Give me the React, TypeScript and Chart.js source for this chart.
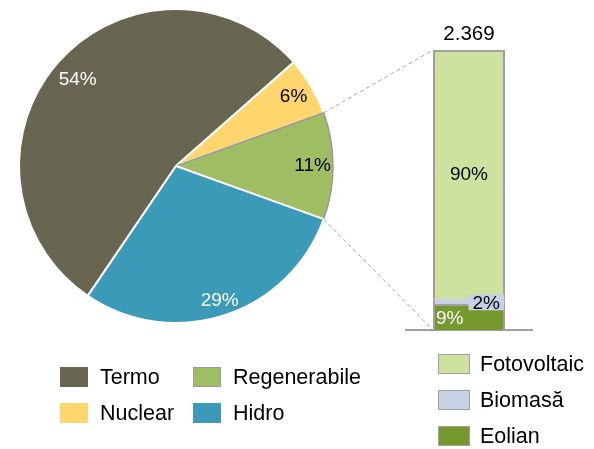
import React, { useEffect, useRef } from "react";
import { Chart, registerables } from "chart.js";
Chart.register(...registerables);

const FONT = '"Liberation Sans", Arial, sans-serif';

// Pie (clockwise order)
const pieLabels = ["Termo", "Nuclear", "Regenerabile", "Hidro"];
const pieValues = [54, 6, 11, 29];
const pieColors = ["#686651", "#FFD66E", "#9FBE63", "#3A9AB8"];
const pieBorderColors = ["#ffffff", "#ffffff", "#9a9a9a", "#ffffff"];
const pieLabelColors = ["#ffffff", "#000000", "#000000", "#ffffff"];

// Stacked bar (bottom to top)
const barLabels = ["Eolian", "Biomasă", "Fotovoltaic"];
const barValues = [9, 2, 90];
const barColors = ["#76992E", "#C6D1E4", "#CDE29E"];
const barLabelColors = ["#ffffff", "#000000", "#000000"];
const barTotal = "2.369";

// Legends
const leftLegend = [
  { label: "Termo", color: "#686651", border: "#686651" },
  { label: "Nuclear", color: "#FFD66E", border: "#FFD66E" },
  { label: "Regenerabile", color: "#9FBE63", border: "#9a9a9a" },
  { label: "Hidro", color: "#3A9AB8", border: "#3A9AB8" },
];
const rightLegend = [
  { label: "Fotovoltaic", color: "#CDE29E" },
  { label: "Biomasă", color: "#C6D1E4" },
  { label: "Eolian", color: "#76992E" },
];

export default function App() {
  const pieRef = useRef<HTMLCanvasElement>(null);
  const barRef = useRef<HTMLCanvasElement>(null);

  useEffect(() => {
    document.body.style.margin = "0";
    const labelRadius = [0.835, 0.87, 0.87, 0.9];
    const pieLabelPlugin = {
      id: "pieLabels",
      afterDatasetsDraw(chart: any) {
        const ctx = chart.ctx;
        const meta = chart.getDatasetMeta(0);
        ctx.save();
        ctx.font = `19px ${FONT}`;
        ctx.textAlign = "center";
        ctx.textBaseline = "middle";
        meta.data.forEach((arc: any, i: number) => {
          const { x, y, startAngle, endAngle, outerRadius } = arc.getProps(
            ["x", "y", "startAngle", "endAngle", "outerRadius"],
            true
          );
          const mid = (startAngle + endAngle) / 2;
          const r = outerRadius * labelRadius[i];
          ctx.fillStyle = pieLabelColors[i];
          ctx.fillText(pieValues[i] + "%", x + Math.cos(mid) * r, y + Math.sin(mid) * r);
        });
        ctx.restore();
      },
    };

    const pie = new Chart(pieRef.current!, {
      type: "pie",
      data: {
        labels: pieLabels,
        datasets: [
          {
            data: pieValues,
            backgroundColor: pieColors,
            borderColor: pieBorderColors,
            borderWidth: [2, 2, 1.5, 2],
          },
        ],
      },
      options: {
        animation: false,
        responsive: false,
        events: [],
        rotation: 214.2,
        radius: 157,
        layout: { padding: { left: 19, top: 9, right: 261, bottom: 126 } },
        plugins: { legend: { display: false }, tooltip: { enabled: false } },
      } as any,
      plugins: [pieLabelPlugin],
    });

    const total = barValues.reduce((a, b) => a + b, 0);

    const barPlugin = {
      id: "barExtras",
      beforeDatasetsDraw(chart: any) {
        const ctx = chart.ctx;
        const { left, right } = chart.chartArea;
        const y0 = chart.scales.y.getPixelForValue(0);
        const arc: any = pie.getDatasetMeta(0).data[2];
        const p = arc.getProps(["x", "y", "startAngle", "endAngle", "outerRadius"], true);
        const topBar: any = chart.getDatasetMeta(2).data[0];
        const bx = topBar.x - topBar.width / 2;
        ctx.save();
        ctx.strokeStyle = "#a6a6a6";
        ctx.lineWidth = 1;
        ctx.setLineDash([4, 3]);
        ctx.beginPath();
        ctx.moveTo(p.x + Math.cos(p.startAngle) * p.outerRadius, p.y + Math.sin(p.startAngle) * p.outerRadius);
        ctx.lineTo(bx, topBar.y);
        ctx.moveTo(p.x + Math.cos(p.endAngle) * p.outerRadius, p.y + Math.sin(p.endAngle) * p.outerRadius);
        ctx.lineTo(bx, y0);
        ctx.stroke();
        ctx.setLineDash([]);
        ctx.strokeStyle = "#a0a0a0";
        ctx.lineWidth = 2;
        ctx.beginPath();
        ctx.moveTo(left, y0);
        ctx.lineTo(right, y0);
        ctx.stroke();
        ctx.restore();
      },
      afterDatasetsDraw(chart: any) {
        const ctx = chart.ctx;
        ctx.save();
        ctx.font = `19px ${FONT}`;
        ctx.textBaseline = "middle";
        barValues.forEach((v, i) => {
          const el: any = chart.getDatasetMeta(i).data[0];
          const top = el.y;
          const bottom = el.base;
          const cy = (top + bottom) / 2;
          const l = el.x - el.width / 2;
          const r = el.x + el.width / 2;
          const txt = v + "%";
          ctx.fillStyle = barLabelColors[i];
          if (i === 0) {
            ctx.textAlign = "left";
            ctx.fillText(txt, l + 3, cy + 1);
          } else if (i === 1) {
            const w = ctx.measureText(txt).width + 8;
            ctx.fillStyle = barColors[i];
            ctx.fillRect(r - w - 1, cy - 8, w, 16);
            ctx.fillStyle = barLabelColors[i];
            ctx.textAlign = "center";
            ctx.fillText(txt, r - 1 - w / 2, cy + 1);
          } else {
            ctx.textAlign = "center";
            ctx.fillText(txt, el.x, cy);
          }
        });
        const topEl: any = chart.getDatasetMeta(2).data[0];
        ctx.font = `20.5px ${FONT}`;
        ctx.fillStyle = "#000000";
        ctx.textAlign = "center";
        ctx.textBaseline = "alphabetic";
        ctx.fillText(barTotal, topEl.x, topEl.y - 10);
        ctx.restore();
      },
    };

    const borderWidths = [
      { top: 1, bottom: 0, left: 2, right: 2 },
      { top: 1, bottom: 1, left: 2, right: 2 },
      { top: 2, bottom: 1, left: 2, right: 2 },
    ];

    const bar = new Chart(barRef.current!, {
      type: "bar",
      data: {
        labels: [""],
        datasets: barLabels.map((l, i) => ({
          label: l,
          data: [barValues[i]],
          backgroundColor: barColors[i],
          borderColor: "#a0a0a0",
          borderWidth: borderWidths[i],
          borderSkipped: false,
          barPercentage: 1,
          categoryPercentage: 0.5625,
        })),
      },
      options: {
        animation: false,
        responsive: false,
        events: [],
        layout: { padding: { left: 405, right: 61, top: 50, bottom: 119 } },
        scales: {
          x: { stacked: true, display: false },
          y: { stacked: true, display: false, min: 0, max: total },
        },
        plugins: { legend: { display: false }, tooltip: { enabled: false } },
      } as any,
      plugins: [barPlugin],
    });

    return () => {
      bar.destroy();
      pie.destroy();
    };
  }, []);

  const canvasStyle: React.CSSProperties = { position: "absolute", left: 0, top: 0 };

  return (
    <div style={{ position: "relative", width: 594, height: 449, fontFamily: FONT, background: "#fff", overflow: "hidden" }}>
      <canvas ref={pieRef} width={594} height={449} style={canvasStyle} />
      <canvas ref={barRef} width={594} height={449} style={canvasStyle} />
      {leftLegend.map((it, i) => {
        const col = Math.floor(i / 2);
        const row = i % 2;
        return (
          <div
            key={it.label}
            style={{
              position: "absolute",
              left: 60 + col * 133,
              top: 367 + row * 36,
              height: 20,
              display: "flex",
              alignItems: "center",
              fontSize: 21.5,
              color: "#000",
              whiteSpace: "nowrap",
            }}
          >
            <span
              style={{
                display: "inline-block",
                width: 28,
                height: 20,
                boxSizing: "border-box",
                background: it.color,
                border: `1px solid ${it.border}`,
                marginRight: 12,
              }}
            />
            {it.label}
          </div>
        );
      })}
      {rightLegend.map((it, i) => (
        <div
          key={it.label}
          style={{
            position: "absolute",
            left: 438,
            top: 354 + i * 36,
            height: 20,
            display: "flex",
            alignItems: "center",
            fontSize: 21.5,
            color: "#000",
            whiteSpace: "nowrap",
          }}
        >
          <span
            style={{
              display: "inline-block",
              width: 32,
              height: 20,
              boxSizing: "border-box",
              background: it.color,
              border: "1.5px solid #a0a0a0",
              marginRight: 10,
            }}
          />
          {it.label}
        </div>
      ))}
    </div>
  );
}
